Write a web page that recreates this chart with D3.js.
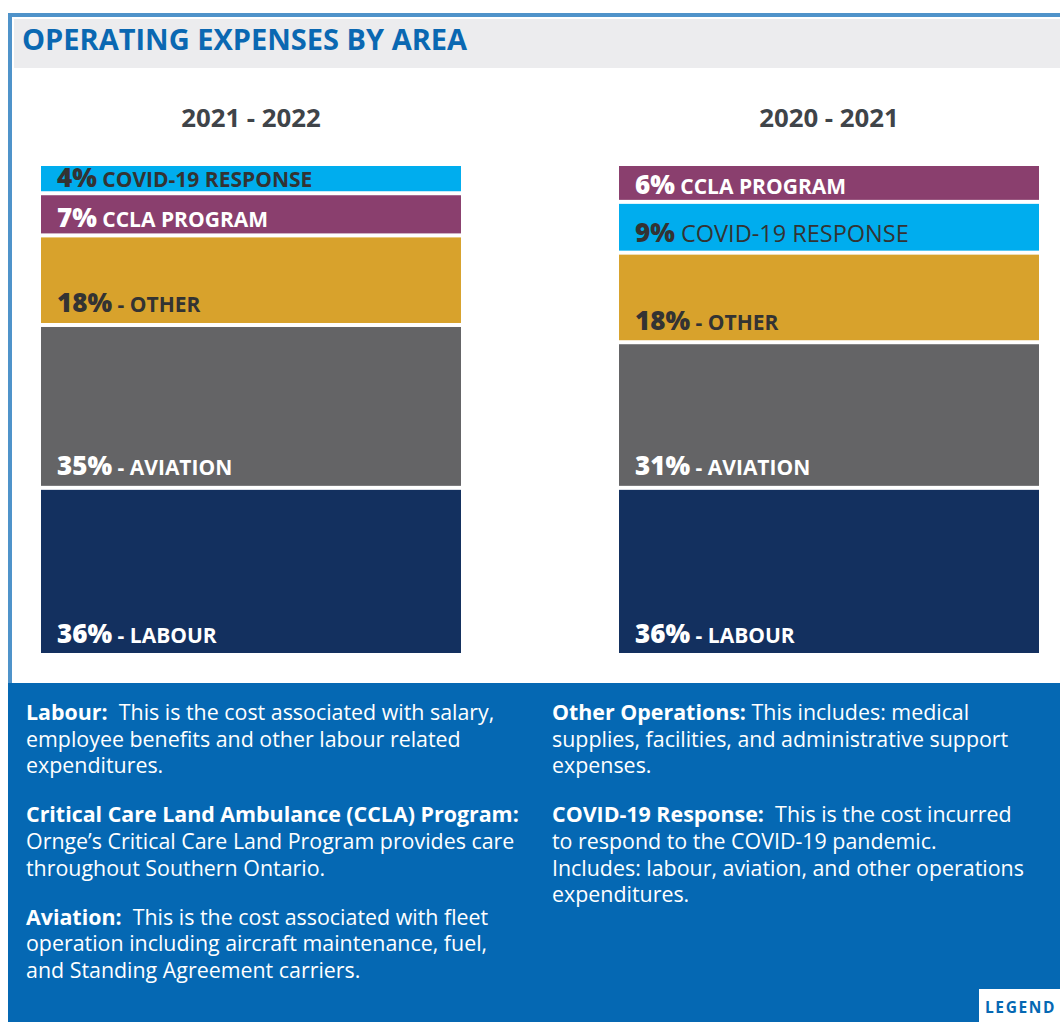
<!DOCTYPE html>
<html>
<head>
<meta charset="utf-8">
<script src="https://cdn.jsdelivr.net/npm/d3@7"></script>
<style>
  html, body { margin: 0; padding: 0; background: #ffffff; }
  svg { display: block; font-family: "Open Sans", "Noto Sans", sans-serif; }
</style>
</head>
<body>
<svg id="chart" width="1060" height="1022"></svg>
<script>
// ---- data ----
const title = "OPERATING EXPENSES BY AREA";
const years = ["2021 - 2022", "2020 - 2021"];
const categories2122 = ["COVID-19 RESPONSE", "CCLA PROGRAM", "OTHER", "AVIATION", "LABOUR"];
const values2122 = [4, 7, 18, 35, 36];
const categories2021 = ["CCLA PROGRAM", "COVID-19 RESPONSE", "OTHER", "AVIATION", "LABOUR"];
const values2021 = [6, 9, 18, 31, 36];
const dashed = ["OTHER", "AVIATION", "LABOUR"];
const legendLeft = [
  ["Labour:", "  This is the cost associated with salary,", "employee benefits and other labour related", "expenditures."],
  ["Critical Care Land Ambulance (CCLA) Program:", "", "Ornge\u2019s Critical Care Land Program provides care", "throughout Southern Ontario."],
  ["Aviation:", "  This is the cost associated with fleet", "operation including aircraft maintenance, fuel,", "and Standing Agreement carriers."]
];
const legendRight = [
  ["Other Operations:", " This includes: medical", "supplies, facilities, and administrative support", "expenses."],
  ["COVID-19 Response:", "  This is the cost incurred", "to respond to the COVID-19 pandemic.", "Includes: labour, aviation, and other operations", "expenditures."]
];
const legendTab = "LEGEND";

// ---- styles ----
const colors = {
  "COVID-19 RESPONSE": "#00adee",
  "CCLA PROGRAM": "#8a3f6e",
  "OTHER": "#d8a22c",
  "AVIATION": "#646466",
  "LABOUR": "#13305f"
};
const textColors = {
  "COVID-19 RESPONSE": "#333333",
  "CCLA PROGRAM": "#ffffff",
  "OTHER": "#333333",
  "AVIATION": "#ffffff",
  "LABOUR": "#ffffff"
};

const svg = d3.select("#chart");

// frame
svg.append("rect").attr("x", 10).attr("y", 15).attr("width", 1060).attr("height", 680)
  .attr("fill", "#ffffff").attr("stroke", "#4f93ca").attr("stroke-width", 4);
svg.append("rect").attr("x", 14).attr("y", 19).attr("width", 1046).attr("height", 49)
  .attr("fill", "#ececee");
svg.append("text").attr("x", 22).attr("y", 50).text(title)
  .attr("font-size", 29).attr("font-weight", 700).attr("fill", "#0a68b2");

// bars
const gap = 4, minH = 8;
const barTop = 166, barBottom = 653;
const yScale = d3.scaleLinear().domain([0, 100]).range([0, (barBottom - barTop) - gap * 4 - minH * 5]);
const xBand = d3.scaleBand().domain(years).range([41, 1039]).paddingInner(0.2734);

const datasets = [
  { year: years[0], cats: categories2122, vals: values2122 },
  { year: years[1], cats: categories2021, vals: values2021 }
];

datasets.forEach(ds => {
  const x0 = xBand(ds.year), w = xBand.bandwidth();
  svg.append("text").attr("x", x0 + w / 2).attr("y", 127).attr("text-anchor", "middle")
    .attr("font-size", 25.8).attr("font-weight", 700).attr("fill", "#3f4449").text(ds.year);
  let y = barTop;
  const segs = ds.cats.map((c, i) => {
    const h = yScale(ds.vals[i]) + minH;
    const s = { cat: c, val: ds.vals[i], y: y, h: h };
    y += h + gap;
    return s;
  });
  const g = svg.append("g");
  g.selectAll("rect").data(segs).join("rect")
    .attr("x", x0).attr("y", d => d.y).attr("width", w).attr("height", d => d.h)
    .attr("fill", d => colors[d.cat]);
  const special = d => ds.year === years[1] && d.cat === "COVID-19 RESPONSE";
  const t = g.selectAll("text").data(segs).join("text")
    .attr("x", x0 + 16)
    .attr("y", d => d.y + d.h - Math.min(10.5, d.h * 0.18))
    .attr("fill", d => textColors[d.cat]);
  t.append("tspan").attr("font-size", 26).attr("font-weight", 800)
    .text(d => d.val + "%");
  t.append("tspan").attr("font-size", d => special(d) ? 23.5 : 21)
    .attr("font-weight", d => special(d) ? 400 : 700)
    .text(d => (dashed.includes(d.cat) ? " - " : " ") + d.cat);
});

// legend panel
svg.append("rect").attr("x", 8).attr("y", 683).attr("width", 1052).attr("height", 339).attr("fill", "#0568b3");

function drawParas(paras, x, y0) {
  let y = y0;
  paras.forEach(p => {
    const lines = [];
    lines.push([p[0], p[1]]);
    for (let i = 2; i < p.length; i++) lines.push([null, p[i]]);
    lines.forEach(l => {
      const t = svg.append("text").attr("x", x).attr("y", y).attr("fill", "#ffffff")
        .attr("font-size", 21.4).attr("xml:space", "preserve").style("white-space", "pre");
      if (l[0]) t.append("tspan").attr("font-weight", 700).text(l[0]);
      if (l[1]) t.append("tspan").attr("font-weight", 400).text(l[1]);
      y += 26.6;
    });
    y += 22.6;
  });
}
drawParas(legendLeft, 26, 720);
drawParas(legendRight, 552, 720);

svg.append("rect").attr("x", 979).attr("y", 989).attr("width", 81).attr("height", 33).attr("fill", "#ffffff");
svg.append("text").attr("x", 985).attr("y", 1013).attr("font-size", 15.5).attr("font-weight", 700)
  .attr("letter-spacing", 1.6).attr("fill", "#0568b3").text(legendTab);
</script>
</body>
</html>
